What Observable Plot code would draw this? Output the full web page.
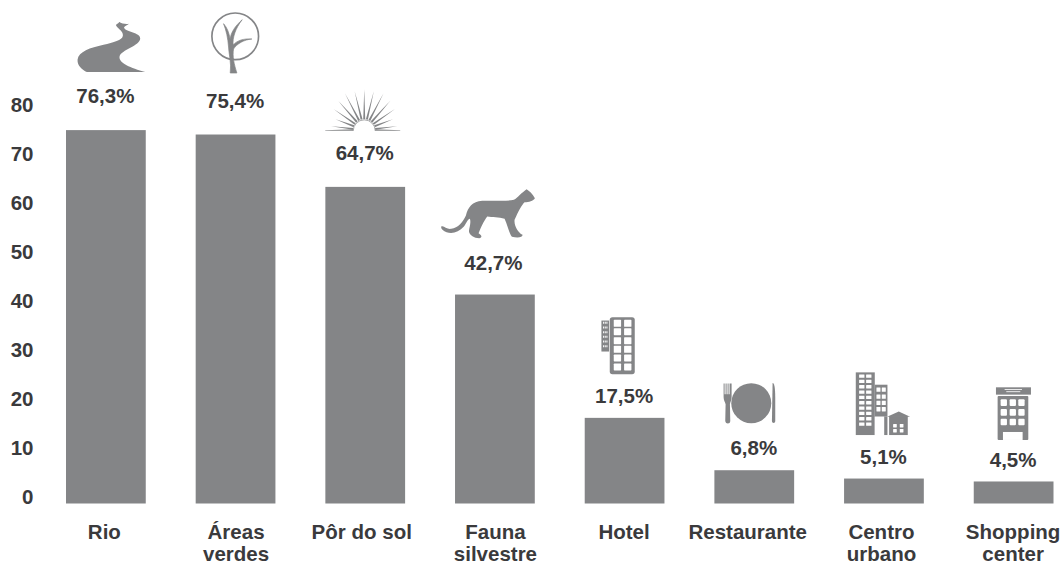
<!DOCTYPE html>
<html lang="pt">
<head>
<meta charset="utf-8">
<script src="https://cdn.jsdelivr.net/npm/d3@7"></script>
<script src="https://cdn.jsdelivr.net/npm/@observablehq/plot@0.6"></script>
<style>
html,body{margin:0;padding:0;background:#fff}
svg{display:block;overflow:visible}
</style>
</head>
<body>
<div id="chart"></div>
<script>
const categories = ["Rio","Áreas\nverdes","Pôr do sol","Fauna\nsilvestre","Hotel","Restaurante","Centro\nurbano","Shopping\ncenter"];
const values = [76.3,75.4,64.7,42.7,17.5,6.8,5.1,4.5];
const tickValues = [0,10,20,30,40,50,60,70,80];
const iconNames = ["river","tree","sun","cat","hotel","plate","city","mall"];

const rows = categories.map((category,i)=>({category,value:values[i],label:String(values[i]).replace(".",",")+"%",icon:iconNames[i]}));

const GREY="#848587", INK="#3a3a3c", FONT="'Liberation Sans',Arial,sans-serif";

// Horizontal nudge of each category label, as in the reference.
const labelNudge={"Rio":-2,"Áreas\nverdes":0,"Pôr do sol":-4,"Fauna\nsilvestre":0,"Hotel":-1,"Restaurante":-7,"Centro\nurbano":-3,"Shopping\ncenter":-1};

// Pictograms, drawn in a 3x unit space. cx/by = anchor (centre x, bottom y) inside the drawing.
const grid=(xs,ys,w,h,r=1.5)=>xs.flatMap(x=>ys.map(y=>`<rect x="${x}" y="${y}" width="${w}" height="${h}" rx="${r}" fill="#fff"/>`)).join("");
const rays=()=>{let s="";const cx=912,cy=360;
  const tip=[100,92,112,118,124,120,122,120,124,118,112,92,100];
  for(let k=0;k<tip.length;k++){const a=Math.PI*(k+0.5)/tip.length,c=Math.cos(a),e=Math.sin(a);
    const r0=33,r1=tip[k],w=3;
    s+=`<path d="M${cx+c*r0-e*w} ${cy-e*r0-c*w}L${cx+c*r1} ${cy-e*r1}L${cx+c*r0+e*w} ${cy-e*r0+c*w}Z"/>`;}
  return s;};
const icons={
  river:{cx:152,by:187,dx:5,gap:58,svg:`<path d="M80 187L255 187C212 174 175 160 178 140C182 120 240 108 240 86C240 68 198 68 192 55C190 50 200 48 206 42C198 44 185 42 176 36C178 42 165 42 168 48C174 58 190 64 188 78C186 92 160 98 130 105C90 114 55 125 52 150C51 168 66 180 80 187Z"/>`},
  tree:{cx:526,by:190,dx:0,gap:61.5,svg:`<circle cx="525" cy="80" r="70" fill="none" stroke="#848587" stroke-width="5"/><path stroke="#848587" stroke-width="2" stroke-linejoin="round" d="M510 190L530 190C522 165 516 140 520 118C530 102 552 90 575 88C552 86 530 92 519 106C516 85 526 55 546 30C524 50 512 68 510 88C506 70 502 55 490 42C498 62 503 85 505 112C506 135 514 160 510 190Z"/>`},
  sun:{cx:912,by:362,dx:-1,gap:56,svg:`<path d="M795 360L880 357L880 362L795 362Z"/><path d="M1020 360L944 357L944 362L1020 362Z"/>${rays()}<path d="M879 362A33 33 0 0 1 945 362" fill="#fff" stroke="#848587" stroke-width="2"/>`},
  cat:{cx:172,by:178,dx:-7,gap:57,svg:`<path d="M32 145C40 140 48 155 62 152C82 150 98 130 106 112C112 88 125 70 155 68C190 66 225 70 250 65C262 58 272 44 288 33C296 38 305 46 313 60C308 68 295 72 282 72C272 82 264 98 252 125C250 142 262 162 276 170C276 178 262 180 244 176C236 165 232 145 222 122C205 116 185 118 170 115C160 128 150 150 144 165C155 172 155 178 146 180C130 180 118 172 115 160C116 146 122 135 118 122C112 122 108 135 100 145C85 162 65 168 48 162C38 158 30 152 32 145Z"/>`},
  hotel:{cx:563,by:585,dx:-6.5,gap:44,svg:`<rect x="538" y="415" width="75" height="171" rx="8"/>${grid([550,581],[423,448,475,501,527,554],22,21,2)}<rect x="513" y="425" width="23" height="93"/><path d="M518 432h13M518 446h13M518 460h13M518 474h13M518 488h13M518 502h13" stroke="#fff" stroke-width="6" stroke-dasharray="3 2"/>`},
  plate:{cx:147,by:187,dx:-5,gap:47,svg:`<circle cx="153" cy="127" r="60"/><path d="M70 68H73V100H76V68H79V100H82V68H85V100H88V68H94V108C94 118 90 122 89 130L90 180C90 190 76 190 75 180L76 130C74 122 70 118 70 108Z"/><path d="M217 66C224 66 225 90 225 120L225 180C225 188 215 188 215 180Z"/>`},
  city:{cx:548,by:225,dx:-1.5,gap:43.5,svg:`<rect x="468" y="37" width="57" height="188"/><rect x="525" y="74" width="38" height="96"/><rect x="553" y="170" width="10" height="55"/><rect x="525" y="170" width="28" height="55" fill="#fff"/>${grid([478,499],[43,59,75,91,107,123,139,155,171,187],16,10,1)}${grid([530,546],[82,103,122,141],12,13,1)}<path d="M562 170L597 154L631 170Z"/><rect x="568" y="168" width="56" height="57"/>${grid([580,600],[192,207],11,10,1)}`},
  mall:{cx:942,by:240,dx:0,gap:41.5,svg:`<rect x="889" y="82" width="105" height="22"/><rect x="894" y="108" width="92" height="132" rx="3"/><rect x="910" y="216" width="59" height="24" fill="#fff"/>${grid([903,930,956],[118,147,176],19,20,3)}<rect x="915" y="87" width="52" height="2.5" fill="#fff"/><rect x="920" y="94" width="42" height="2.5" fill="#fff"/>`}
};

const iconMark=(index,scales)=>{
  const {x,y}=scales, bw=scales.scales.x.bandwidth;
  const g=document.createElementNS("http://www.w3.org/2000/svg","g");
  g.setAttribute("fill",GREY);
  for(const r of rows){
    const ic=icons[r.icon];
    const px=x(r.category)+bw/2+ic.dx, py=y(r.value)-ic.gap;
    const el=document.createElementNS("http://www.w3.org/2000/svg","g");
    el.setAttribute("transform",`translate(${px} ${py}) scale(${1/3}) translate(${-ic.cx} ${-ic.by})`);
    el.innerHTML=ic.svg;
    g.appendChild(el);
  }
  return g;
};

const labelStyle={text:"label",x:"category",y:"value",fontSize:20.5,fontWeight:700,fill:INK};

const chart=Plot.plot({
  width:1062,height:563,
  marginLeft:66,marginRight:8.5,marginTop:112,marginBottom:59.5,
  style:{fontFamily:FONT,background:"#fff",overflow:"visible"},
  x:{domain:categories,paddingInner:0.385,paddingOuter:0,round:false,label:null},
  y:{domain:[0,80],label:null},
  marks:[
    Plot.barY(rows,{x:"category",y:"value",fill:GREY}),
    Plot.axisY({ticks:tickValues,tickSize:0,anchor:"left",tickPadding:0,label:null,fontSize:20.5,fontWeight:700,fill:INK,dy:-7,dx:-33,textAnchor:"end"}),
    ...categories.map(c=>Plot.axisX([c],{tickSize:0,tickPadding:19,label:null,fontSize:20.5,fontWeight:700,fill:INK,lineHeight:1.07,dx:labelNudge[c]})),
    Plot.text(rows.filter(d=>d.value>60),{...labelStyle,dx:-1,dy:-34}),
    Plot.text(rows.filter(d=>d.value>40&&d.value<60),{...labelStyle,dx:-2,dy:-31.5}),
    Plot.text(rows.filter(d=>d.value<=40),{...labelStyle,dx:-1,dy:-22}),
    iconMark
  ]
});
document.getElementById("chart").appendChild(chart);
</script>
</body>
</html>
